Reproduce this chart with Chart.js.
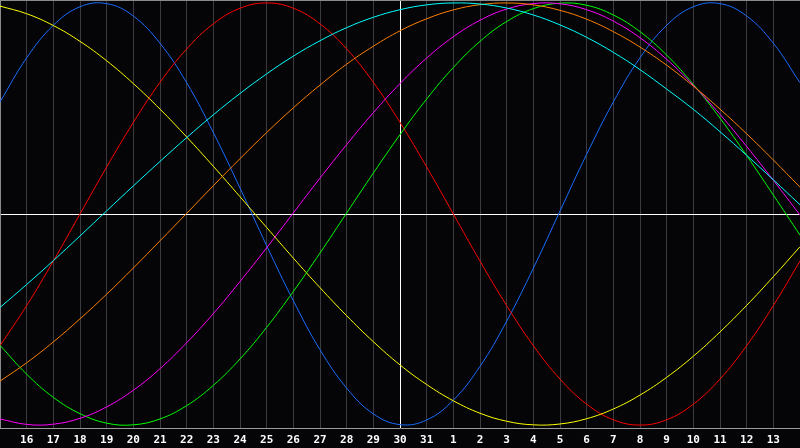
<!DOCTYPE html>
<html><head><meta charset="utf-8">
<script src="https://cdn.jsdelivr.net/npm/chart.js@4"></script>
<style>html,body{margin:0;padding:0;background:#050507;overflow:hidden}</style>
</head><body>
<canvas id="c" width="800" height="448"></canvas>
<script>
const days = ['15','16','17','18','19','20','21','22','23','24','25','26','27','28','29','30','31','1','2','3','4','5','6','7','8','9','10','11','12','13','14'];
const blueSeries    = [0.531,0.740,0.894,0.982,0.997,0.938,0.809,0.622,0.386,0.123,-0.150,-0.411,-0.643,-0.825,-0.947,-0.998,-0.976,-0.882,-0.722,-0.508,-0.257,0.014,0.283,0.531,0.740,0.894,0.982,0.997,0.938,0.809,0.622];
const redSeries     = [-0.624,-0.434,-0.223,0,0.223,0.434,0.624,0.782,0.901,0.975,1,0.975,0.901,0.782,0.624,0.434,0.223,0,-0.223,-0.434,-0.624,-0.782,-0.901,-0.975,-1,-0.975,-0.901,-0.782,-0.624,-0.434,-0.223];
const yellowSeries  = [0.985,0.949,0.893,0.818,0.726,0.618,0.497,0.365,0.226,0.082,-0.064,-0.209,-0.349,-0.482,-0.605,-0.715,-0.808,-0.885,-0.944,-0.982,-0.999,-0.995,-0.970,-0.924,-0.858,-0.774,-0.674,-0.559,-0.433,-0.297,-0.155];
const greenSeries   = [-0.622,-0.759,-0.869,-0.946,-0.991,-0.999,-0.971,-0.908,-0.812,-0.687,-0.537,-0.367,-0.185,0.005,0.194,0.376,0.545,0.694,0.818,0.912,0.973,0.999,0.989,0.943,0.864,0.753,0.614,0.454,0.277,0.090,-0.100];
const magentaSeries = [-0.971,-0.997,-0.996,-0.968,-0.914,-0.835,-0.733,-0.610,-0.472,-0.320,-0.160,0.005,0.170,0.329,0.480,0.618,0.739,0.840,0.918,0.971,0.997,0.996,0.968,0.914,0.835,0.733,0.610,0.472,0.320,0.160,-0.005];
const orangeSeries  = [-0.792,-0.705,-0.606,-0.497,-0.380,-0.256,-0.127,0.003,0.134,0.262,0.386,0.503,0.611,0.710,0.795,0.868,0.925,0.967,0.992,1.000,0.991,0.965,0.923,0.864,0.791,0.705,0.606,0.497,0.380,0.256,0.127];
const cyanSeries    = [-0.443,-0.334,-0.221,-0.104,0.015,0.133,0.249,0.362,0.470,0.571,0.664,0.748,0.821,0.883,0.932,0.968,0.991,1.000,0.995,0.976,0.943,0.896,0.837,0.766,0.684,0.592,0.496,0.390,0.278,0.162,0.044];

const mk = (data, color) => ({data, borderColor: color, borderWidth: 1, pointRadius: 0, pointHoverRadius: 0, pointBorderWidth: 0, tension: 0.4, fill: false});

const framePlugin = {
  id: 'frame',
  beforeDatasetsDraw(chart) {
    const {ctx, chartArea: a} = chart;
    ctx.save();
    ctx.strokeStyle = '#8a8a8a';
    ctx.lineWidth = 1;
    ctx.beginPath();
    ctx.moveTo(a.left, a.top + 0.5);
    ctx.lineTo(a.right, a.top + 0.5);
    ctx.moveTo(a.left + 0.5, a.top);
    ctx.lineTo(a.left + 0.5, a.bottom);
    ctx.stroke();
    ctx.restore();
  }
};

new Chart(document.getElementById('c'), {
  type: 'line',
  data: {
    labels: days,
    datasets: [
      mk(cyanSeries, '#00ffff'),
      mk(orangeSeries, '#ff8000'),
      mk(magentaSeries, '#ff00ff'),
      mk(greenSeries, '#00ff00'),
      mk(yellowSeries, '#ffff00'),
      mk(redSeries, '#ff0000'),
      mk(blueSeries, '#1a6cff')
    ]
  },
  options: {
    responsive: false,
    animation: false,
    devicePixelRatio: 1,
    layout: {autoPadding: false, padding: 0},
    plugins: {legend: {display: false}, tooltip: {enabled: false}},
    scales: {
      x: {
        type: 'category',
        offset: false,
        afterFit: (s) => { s.paddingLeft = 0; s.paddingRight = 0; s.height = 20; },
        border: {display: true, color: '#9a9a9a', width: 1},
        grid: {
          drawTicks: false,
          color: (c) => c.index === 15 ? '#ffffff' : (c.index === 0 ? '#8a8a8a' : (c.index === 30 ? 'rgba(0,0,0,0)' : '#3c3c40'))
        },
        ticks: {
          autoSkip: false,
          maxRotation: 0,
          padding: 6,
          color: '#ffffff',
          font: {family: '"DejaVu Sans Mono"', size: 11, weight: 'bold'},
          callback: function(v, i) { return (i === 0 || i === days.length - 1) ? '' : days[i]; }
        }
      },
      y: {
        min: -1.014,
        max: 1.014,
        afterFit: (s) => { s.paddingTop = 0; s.paddingBottom = 0; s.width = 0; },
        afterBuildTicks: (s) => { s.ticks = [{value: 0}]; },
        border: {display: false},
        grid: {drawTicks: false, color: '#ffffff'},
        ticks: {display: false}
      }
    }
  },
  plugins: [framePlugin]
});
</script>
</body></html>
